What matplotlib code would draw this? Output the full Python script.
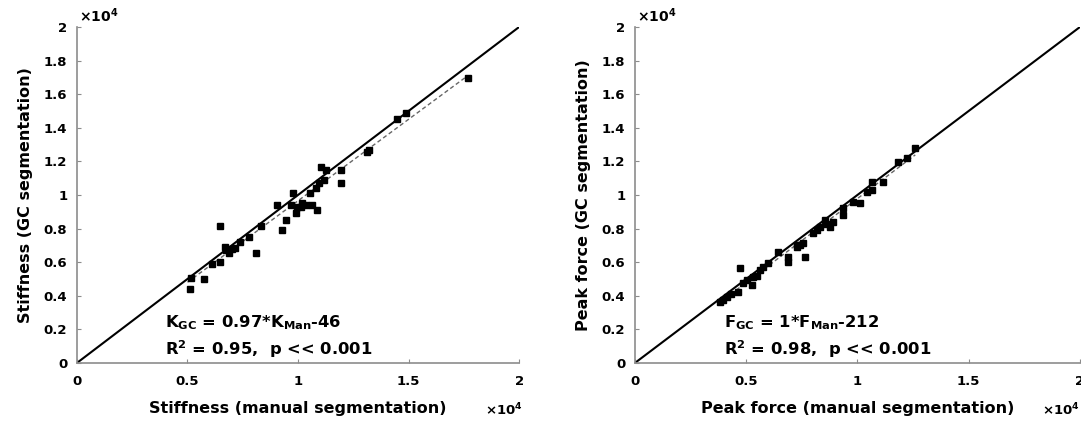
import matplotlib
matplotlib.use("Agg")
import matplotlib.pyplot as plt
from matplotlib.ticker import FuncFormatter
import numpy as np

plt.rcParams['font.family'] = ['DejaVu Sans']
plt.rcParams['font.weight'] = 'bold'
plt.rcParams['mathtext.default'] = 'bf'

# Stiffness: manual vs GC segmentation
stiff_man = [5093, 5156, 5729, 6108, 6485, 6485, 6757, 6863, 7000, 7166, 7392, 7770,
             8118, 8345, 9055, 9282, 9463, 9781, 9660, 9887, 10113, 10340, 10537, 10644,
             10871, 10794, 10946, 11170, 11020, 11247, 11927, 11927, 13213, 13100, 14498,
             14875, 17672, 6700, 10200, 9950]
stiff_gc = [4387, 5077, 4982, 5893, 6012, 8173, 6726, 6528, 6800, 6825, 7222, 7520,
            6528, 8173, 9405, 7917, 8512, 10100, 9405, 8909, 9306, 9405, 10100, 9405,
            9107, 10398, 10696, 10893, 11685, 11488, 11488, 10696, 12679, 12550, 14504,
            14861, 16946, 6900, 9550, 9300]
stiff_slope, stiff_icpt = 0.97, -46
stiff_fit_range = [5000, 17600]

# Peak force: manual vs GC segmentation
force_man = [3820, 3970, 4120, 4644, 4719, 4869, 5019, 5243, 5318, 5618, 5768, 5993,
             6440, 6890, 6890, 7266, 7416, 7566, 7640, 8015, 8315, 8539, 8764, 8914,
             9363, 9363, 9813, 10112, 10412, 10637, 10637, 11161, 11835, 12210, 12584,
             4300, 5500, 7300, 8200, 8600]
force_gc = [3649, 3750, 3946, 4244, 5637, 4744, 4940, 4643, 5137, 5536, 5732, 5935,
            6625, 6030, 6327, 7024, 7000, 7125, 6327, 7720, 8113, 8512, 8113, 8411,
            9208, 8810, 9601, 9500, 10196, 10792, 10300, 10792, 11982, 12185, 12780,
            4100, 5200, 6900, 7900, 8300]
force_slope, force_icpt = 1.0, -212
force_fit_range = [3800, 12600]

ticks_x = [0, 5000, 10000, 15000, 20000]
ticks_y = [0, 2000, 4000, 6000, 8000, 10000, 12000, 14000, 16000, 18000, 20000]

fig = plt.figure(figsize=(10.81, 4.22), dpi=100)
ax1 = fig.add_axes([0.0712, 0.140, 0.409, 0.796])
ax2 = fig.add_axes([0.5874, 0.140, 0.4116, 0.796])

fmt = FuncFormatter(lambda v, p: f"{v/1e4:g}")
spine_col = '#8c8c8c'

def style(ax, xlabel, ylabel, xoff):
    ax.set_xlim(0, 20000)
    ax.set_ylim(0, 20000)
    ax.set_xticks(ticks_x)
    ax.set_yticks(ticks_y)
    ax.xaxis.set_major_formatter(fmt)
    ax.yaxis.set_major_formatter(fmt)
    for s in ['top', 'right']:
        ax.spines[s].set_visible(False)
    for s in ['bottom', 'left']:
        ax.spines[s].set_color(spine_col)
        ax.spines[s].set_linewidth(1.2)
    ax.tick_params(direction='in', length=3, color=spine_col, labelsize=9.5)
    ax.tick_params(axis='x', pad=9)
    ax.tick_params(axis='y', pad=7)
    for lab in ax.get_xticklabels() + ax.get_yticklabels():
        lab.set_fontweight('bold')
    ax.set_xlabel(xlabel, fontsize=11.5, fontweight='bold', labelpad=9)
    ax.set_ylabel(ylabel, fontsize=11.5, fontweight='bold', labelpad=8)
    ax.text(0.005, 1.005, r'$\times$10$^4$', transform=ax.transAxes, fontsize=10,
            ha='left', va='bottom', fontweight='bold')
    ax.text(xoff, -0.14, r'$\times$10$^4$', transform=ax.transAxes, fontsize=9.5,
            ha='left', va='center', fontweight='bold')

def panel(ax, xm, yg, slope, icpt, rng, eq, r2):
    ax.plot([0, 20000], [0, 20000], color='black', lw=1.5, zorder=2)
    fx = np.array(rng, dtype=float)
    ax.plot(fx, slope * fx + icpt, color='#666666', lw=1.0, ls=(0, (3, 2)), zorder=3)
    ax.plot(xm, yg, 's', color='black', ms=5, zorder=4, clip_on=False)
    ax.text(0.20, 0.105, eq, transform=ax.transAxes, fontsize=11.8, fontweight='bold',
            ha='left', va='baseline')
    ax.text(0.20, 0.025, r2, transform=ax.transAxes, fontsize=11.8, fontweight='bold',
            ha='left', va='baseline')

panel(ax1, stiff_man, stiff_gc, stiff_slope, stiff_icpt, stiff_fit_range,
      r'K$_{GC}$ = 0.97*K$_{Man}$-46', r'R$^2$ = 0.95,  p << 0.001')
panel(ax2, force_man, force_gc, force_slope, force_icpt, force_fit_range,
      r'F$_{GC}$ = 1*F$_{Man}$-212', r'R$^2$ = 0.98,  p << 0.001')

style(ax1, 'Stiffness (manual segmentation)', 'Stiffness (GC segmentation)', 0.923)
style(ax2, 'Peak force (manual segmentation)', 'Peak force (GC segmentation)', 0.915)

fig.savefig('out.png', dpi=100)
